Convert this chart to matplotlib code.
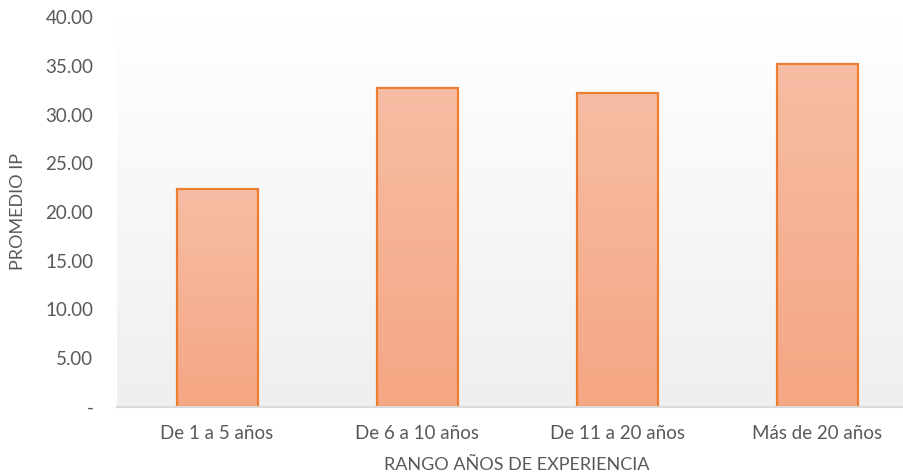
import numpy as np
import matplotlib.pyplot as plt
from matplotlib.colors import LinearSegmentedColormap

# datos
categorias = ["De 1 a 5 años", "De 6 a 10 años", "De 11 a 20 años", "Más de 20 años"]
promedio_ip = [22.35, 32.70, 32.25, 35.20]
y_ticks = [0, 5, 10, 15, 20, 25, 30, 35, 40]

plt.rcParams["font.family"] = ["Lato", "DejaVu Sans"]
gris_txt = "#595959"

fig = plt.figure(figsize=(9.04, 4.74), dpi=100)
# el área de trazado se sale un poco por la derecha, como en el original
ax = fig.add_axes([117 / 904, 1 - 407 / 474, 800 / 904, 390 / 474])

x = np.arange(len(categorias))

# fondo degradado (blanco arriba -> gris claro abajo)
fondo = LinearSegmentedColormap.from_list("fondo", ["#efefef", "#ffffff"])
grad = np.linspace(0, 1, 256).reshape(-1, 1)
ax.imshow(grad, cmap=fondo, origin="lower", aspect="auto",
          extent=[-0.5, len(categorias) - 0.5, 0, 40], zorder=0)

# barras con degradado
relleno = LinearSegmentedColormap.from_list("barra", ["#f5a683", "#f7bda4"])
ancho = 0.405
for xi, v in zip(x, promedio_ip):
    ax.imshow(grad, cmap=relleno, origin="lower", aspect="auto",
              extent=[xi - ancho / 2, xi + ancho / 2, 0, v], zorder=2)
ax.bar(x, promedio_ip, ancho, facecolor="none", edgecolor="#ed7d31",
       linewidth=1.6, zorder=3)
ax.set_xlim(-0.5, len(categorias) - 0.5)
ax.set_ylim(0, 40)

for s in ["top", "right", "left"]:
    ax.spines[s].set_visible(False)
ax.spines["bottom"].set_color("#d9d9d9")
ax.spines["bottom"].set_linewidth(1.5)
ax.spines["bottom"].set_zorder(4)

ax.set_xticks(x)
ax.set_xticklabels(categorias, fontsize=13.5, color=gris_txt)
ax.set_yticks(y_ticks)
ax.set_yticklabels(["-" if t == 0 else f"{t:.2f}" for t in y_ticks],
                   fontsize=13.5, color=gris_txt)
ax.tick_params(axis="both", length=0)
ax.tick_params(axis="x", pad=13)
ax.tick_params(axis="y", pad=17)

ax.set_xlabel("RANGO AÑOS DE EXPERIENCIA", fontsize=13, color=gris_txt)
ax.xaxis.set_label_coords((517 - 117) / 800, -(457 - 407) / 390)
ax.set_ylabel("PROMEDIO IP", fontsize=13, color=gris_txt)
ax.yaxis.set_label_coords(-(117 - 26) / 800, (407 - 211) / 390)

fig.savefig("out.png", dpi=100)
